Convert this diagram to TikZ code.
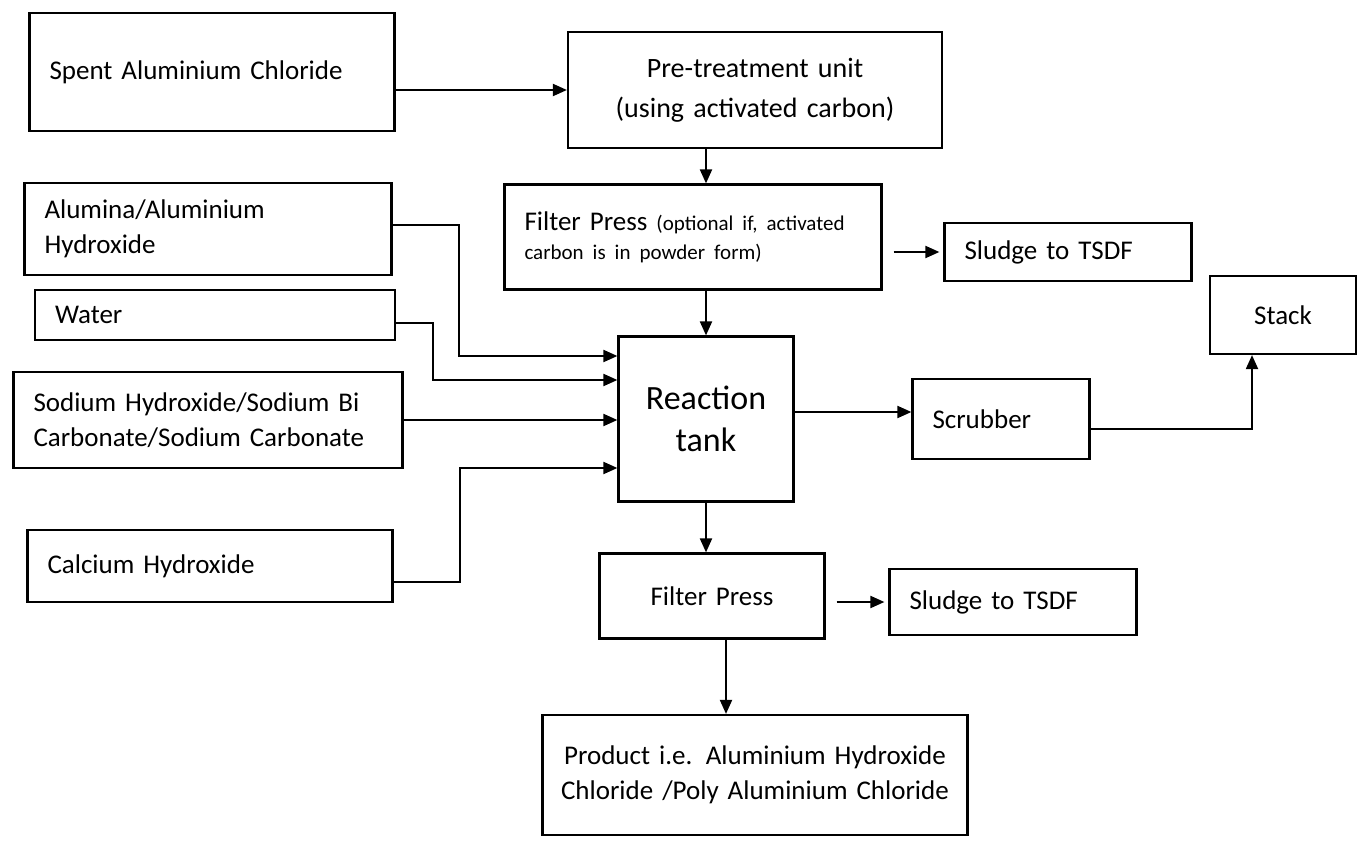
\documentclass[tikz,border=0pt]{standalone}
\usepackage{fontspec}
\setmainfont{Carlito}
\usetikzlibrary{arrows.meta}

\tikzset{
  box/.style={draw,line width=2.2pt,inner xsep=20pt,inner ysep=0pt,align=left,
    font=\fontsize{27}{35}\selectfont},
  cbox/.style={box,align=center},
  arr/.style={-{Triangle[length=14pt,width=12pt]},line width=2pt}
}

\begin{document}
\begin{tikzpicture}
  [x=1pt,y=-1pt]
  \useasboundingbox (0,0) rectangle (1358,845);

  % feeds
  \node[box,text width=325pt,minimum height=118pt] (spent) at (212,72) {Spent Aluminium Chloride};
  \node[box,text width=327pt,minimum height=92pt] (alum) at (208,229) {Alumina/Aluminium\\Hydroxide};
  \node[box,text width=320pt,minimum height=50pt] (water) at (215,315) {Water};
  \node[box,text width=349pt,minimum height=96pt] (sodium) at (208,420) {Sodium Hydroxide/Sodium Bi\\Carbonate/Sodium Carbonate};
  \node[box,text width=325pt,minimum height=72pt] (calc) at (210,566) {Calcium Hydroxide};

  % process
  \node[cbox,text width=334pt,minimum height=116pt,font=\fontsize{28}{40}\selectfont] (pre) at (755,90)
    {Pre-treatment unit\\(using activated carbon)};
  \node[box,text width=337pt,minimum height=105pt] (fp1) at (693,237)
    {Filter Press {\fontsize{21}{24}\selectfont (optional if, activated}\\[-6pt]
     {\fontsize{21}{24}\selectfont carbon is in powder form)}};
  \node[cbox,text width=135pt,minimum height=165pt,font=\fontsize{34}{42}\selectfont] (rtank) at (706,419)
    {Reaction\\tank};
  \node[cbox,text width=185pt,minimum height=85pt] (fp2) at (712,596) {Filter Press};
  \node[cbox,inner xsep=8pt,text width=409pt,minimum height=120pt] (prod) at (755,775)
    {Product i.e. Aluminium Hydroxide\\Chloride /Poly Aluminium Chloride};

  % outlets
  \node[box,text width=207pt,minimum height=58pt] (sl1) at (1068,252) {Sludge to TSDF};
  \node[box,text width=137pt,minimum height=80pt] (scrub) at (1001,419) {Scrubber};
  \node[cbox,text width=106pt,minimum height=78pt] (stack) at (1283,315) {Stack};
  \node[box,text width=207pt,minimum height=66pt] (sl2) at (1013,602) {Sludge to TSDF};

  % main line
  \draw[arr] (spent.east |- pre.west) -- (pre.west);
  \foreach \src/\dst in {pre/fp1, fp1/rtank, rtank/fp2}
    \draw[arr] (\src.south -| rtank.north) -- (\dst.north -| rtank.north);
  \draw[arr] ([xshift=14pt]fp2.south) -- ([xshift=-29pt]prod.north);

  % reagents into the tank
  \draw[arr] ([yshift=4pt]alum.east) -- ++(66,0) |- ([yshift=63pt]rtank.west);
  \draw[arr] ([yshift=-8pt]water.east) -- ++(37,0) |- ([yshift=39pt]rtank.west);
  \draw[arr] (sodium.east) -- (sodium.east -| rtank.west);
  \draw[arr] ([yshift=-16pt]calc.east) -- ++(66,0) |- ([yshift=-49pt]rtank.west);

  % sludge and off-gas
  \foreach \src/\dst in {fp1/sl1, fp2/sl2}
    \draw[arr,shorten <=11pt,shorten >=4pt] (\src.east |- \dst.west) -- (\dst.west);
  \draw[arr] ([yshift=7pt]rtank.east) -- ([yshift=7pt]scrub.west);
  \draw[arr] ([yshift=-10pt]scrub.east) -| ([xshift=-31pt]stack.south);

\end{tikzpicture}
\end{document}
